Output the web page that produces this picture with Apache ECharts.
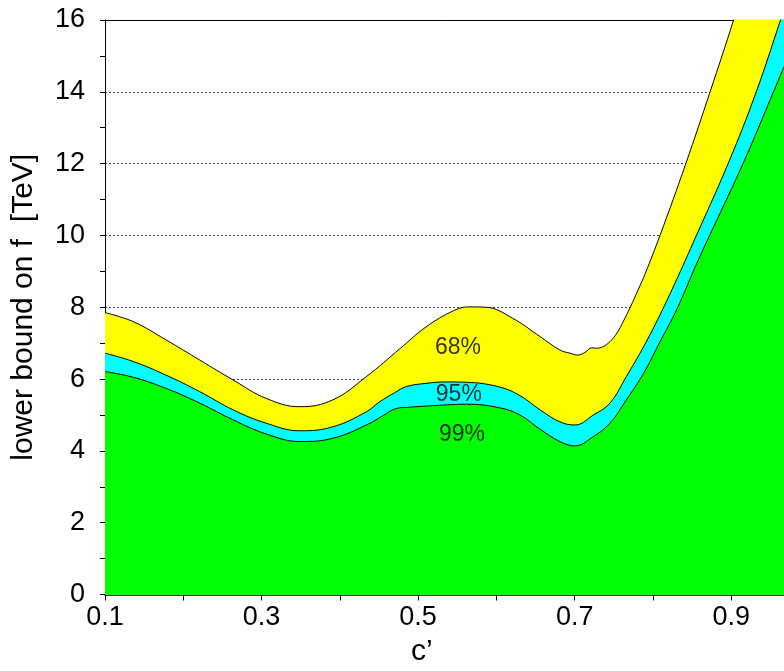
<!DOCTYPE html>
<html>
<head>
<meta charset="utf-8">
<script src="https://cdn.jsdelivr.net/npm/echarts@6/dist/echarts.min.js"></script>
<style>
html,body{margin:0;padding:0;background:#fff;}
#chart{width:784px;height:671px;}
</style>
</head>
<body>
<div id="chart"></div>
<script>
// 68% CL bound (yellow)
const c68 = [0.100, 0.136, 0.178, 0.221, 0.264, 0.306, 0.349, 0.391, 0.434, 0.477, 0.510, 0.545, 0.565, 0.587, 0.621, 0.656, 0.681, 0.694, 0.704, 0.713, 0.722, 0.728, 0.736, 0.745, 0.754, 0.762, 0.771, 0.781, 0.790, 0.809, 0.842, 0.873, 0.903, 0.950, 1.000];
const v68 = [7.85, 7.60, 7.09, 6.53, 5.97, 5.46, 5.23, 5.42, 6.07, 6.85, 7.45, 7.90, 8.01, 8.00, 7.69, 7.18, 6.81, 6.72, 6.67, 6.74, 6.87, 6.86, 6.90, 7.04, 7.28, 7.60, 8.00, 8.48, 8.93, 10.0, 12.0, 14.0, 16.0, 19.3, 22.8];
// 95% CL bound (cyan)
const c95 = [0.100, 0.136, 0.178, 0.221, 0.264, 0.306, 0.349, 0.391, 0.434, 0.451, 0.470, 0.485, 0.510, 0.536, 0.562, 0.604, 0.630, 0.656, 0.681, 0.700, 0.724, 0.745, 0.766, 0.788, 0.809, 0.830, 0.851, 0.896, 0.932, 0.963, 1.000];
const v95 = [6.72, 6.49, 6.11, 5.65, 5.14, 4.77, 4.56, 4.67, 5.09, 5.37, 5.62, 5.79, 5.88, 5.92, 5.91, 5.78, 5.54, 5.14, 4.81, 4.72, 5.00, 5.33, 6.07, 6.90, 7.79, 8.76, 9.78, 12.0, 14.0, 16.0, 18.4];
// 99% CL bound (green)
const c99 = [0.100, 0.136, 0.178, 0.221, 0.264, 0.306, 0.349, 0.391, 0.434, 0.455, 0.472, 0.485, 0.520, 0.562, 0.604, 0.630, 0.656, 0.681, 0.700, 0.724, 0.745, 0.766, 0.788, 0.809, 0.830, 0.858, 0.915, 0.954, 1.000];
const v99 = [6.21, 6.05, 5.74, 5.33, 4.86, 4.47, 4.26, 4.35, 4.72, 4.98, 5.18, 5.21, 5.26, 5.30, 5.20, 5.00, 4.60, 4.26, 4.14, 4.40, 4.77, 5.42, 6.16, 7.04, 7.92, 9.32, 12.0, 14.0, 16.4];
// band labels
const labelTexts = ['68%', '95%', '99%'];
const labelC = [0.551, 0.552, 0.556];
const labelV = [6.87, 5.56, 4.46];
// axis titles
const xTitle = 'c\u2019';
const yTitle = 'lower bound on f  [TeV]';

const FONT = 'Liberation Sans, Arial, sans-serif';
const pairs = (xs, ys) => xs.map((x, i) => [x, ys[i]]);

const chart = echarts.init(document.getElementById('chart'), null, {renderer: 'canvas'});

function band(name, xs, ys, color) {
  return {
    name: name,
    type: 'line',
    data: pairs(xs, ys),
    smooth: 0.4,
    symbol: 'none',
    clip: true,
    lineStyle: {color: '#000', width: 1},
    areaStyle: {color: color, opacity: 1, origin: 'start'},
    animation: false
  };
}

chart.setOption({
  animation: false,
  backgroundColor: '#fff',
  grid: {left: 105, top: 20, bottom: 76.5, right: -25.5, containLabel: false, outerBoundsMode: 'none'},
  xAxis: [{
    type: 'value',
    min: 0.1,
    max: 1.0,
    interval: 0.1,
    position: 'bottom',
    axisLine: {show: true, onZero: false, lineStyle: {color: '#000', width: 1.5}},
    axisTick: {show: true, inside: false, length: 6, lineStyle: {color: '#000', width: 1}},
    splitLine: {show: false},
    axisLabel: {
      show: true,
      margin: 10,
      fontFamily: FONT,
      fontSize: 27,
      color: '#000',
      showMinLabel: true,
      showMaxLabel: false,
      formatter: function (v) {
        const k = Math.round(v * 10);
        return (k % 2 === 1) ? (k / 10).toFixed(1) : '';
      }
    }
  }, {
    type: 'value',
    min: 0.1,
    max: 1.0,
    position: 'top',
    axisLine: {show: true, onZero: false, lineStyle: {color: '#000', width: 1}},
    axisTick: {show: false},
    axisLabel: {show: false},
    splitLine: {show: false}
  }],
  yAxis: {
    type: 'value',
    min: 0,
    max: 16,
    interval: 2,
    name: yTitle,
    nameLocation: 'middle',
    nameGap: 66,
    nameTextStyle: {fontFamily: FONT, fontSize: 30, color: '#000'},
    axisLine: {show: true, onZero: false, lineStyle: {color: '#000', width: 1}},
    axisTick: {show: true, length: 5, lineStyle: {color: '#000', width: 1}},
    minorTick: {show: true, splitNumber: 2, length: 5, lineStyle: {color: '#000', width: 1}},
    splitLine: {show: true, lineStyle: {color: '#444', width: 1, type: [2, 2]}},
    axisLabel: {margin: 20, fontFamily: FONT, fontSize: 27, color: '#000'}
  },
  graphic: [{
    type: 'text',
    left: 411,
    top: 637,
    style: {text: xTitle, fontFamily: FONT, fontSize: 30, fill: '#000'}
  }],
  series: [
    band('68%', c68, v68, '#ffff00'),
    band('95%', c95, v95, '#00ffff'),
    band('99%', c99, v99, '#00ff00'),
    {
      type: 'scatter',
      symbolSize: 0,
      silent: true,
      z: 10,
      data: labelTexts.map((t, i) => ({name: t, value: [labelC[i], labelV[i]]})),
      label: {
        show: true,
        position: 'inside',
        formatter: '{b}',
        fontFamily: FONT,
        fontSize: 23,
        color: '#000',
        textBorderWidth: 0,
        textBorderColor: 'transparent'
      }
    }
  ]
});
</script>
</body>
</html>
